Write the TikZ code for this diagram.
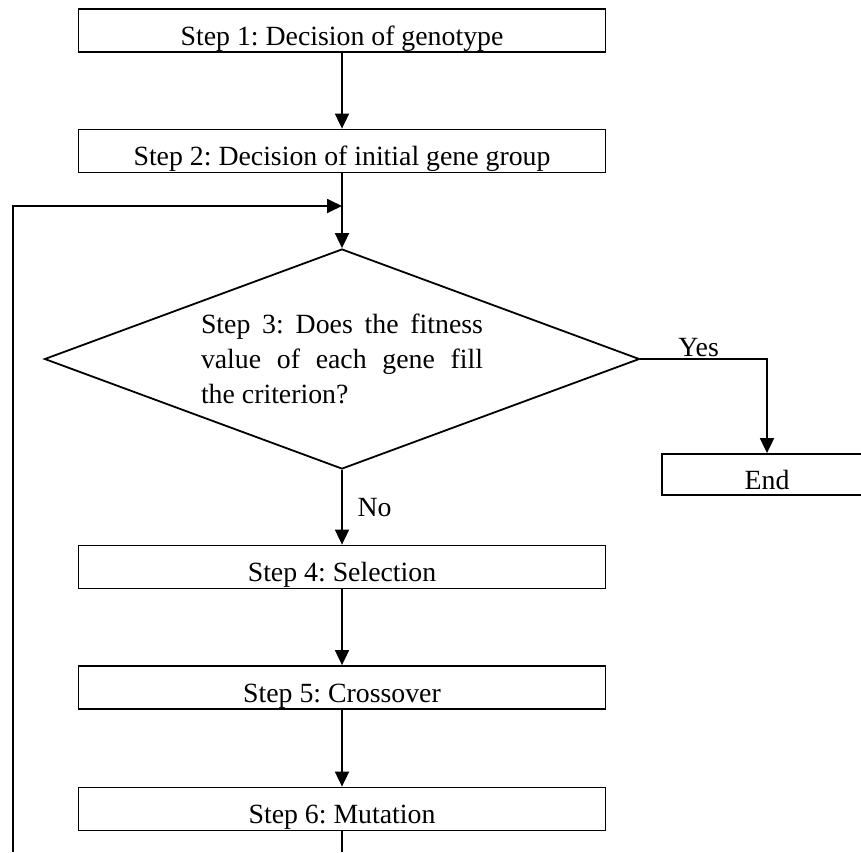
\documentclass[tikz,border=0pt]{standalone}
\usepackage{fontspec}
\setmainfont{Liberation Serif}
\usetikzlibrary{shapes.geometric,arrows.meta}
\tikzset{
  stepfont/.style={font=\fontsize{13.9}{17.5}\selectfont\frenchspacing},
  stepbox/.style={draw,line width=0.9pt,minimum width=263.5pt,minimum height=21.5pt,inner sep=0pt,text height=16pt,text depth=1.5pt,stepfont},
  decision/.style={draw,diamond,line width=0.9pt,aspect=2.7,minimum width=297.5pt,minimum height=110pt,inner sep=0pt,text width=141pt,align=justify,stepfont},
  flow/.style={line width=0.9pt,-{Triangle[length=7.5pt,width=7pt]}}
}
\begin{document}
\begin{tikzpicture}[x=0.5pt,y=-0.5pt]
\useasboundingbox (0,0) rectangle (861,852);
\clip (0,0) rectangle (861,852);
\node[stepbox] (s1) at (342,30.5) {Step 1: Decision of genotype};
\node[stepbox] (s2) at (342,151) {Step 2: Decision of initial gene group};
\node[decision] (s3) at (342,359) {Step 3: Does the fitness\linebreak value of each gene fill\linebreak the criterion?};
\node[stepbox,minimum width=105pt,minimum height=20.5pt] (end) at (767,474.5) {End};
\node[stepbox] (s4) at (342,567) {Step 4: Selection};
\node[stepbox] (s5) at (342,687.5) {Step 5: Crossover};
\node[stepbox] (s6) at (342,809) {Step 6: Mutation};
\coordinate (merge) at (342,206);
\coordinate (loop) at (13,852);
\draw[flow] (s1.south) -- (s2.north);
\draw[flow] (s2.south) -- (s3.north);
\draw[flow] (loop) |- (merge);
\draw[flow] (s3.east) -| node[pos=0.23,above,inner sep=0.5pt,stepfont] {Yes} (end.north);
\draw[flow] (s3.south) -- node[right=4pt,stepfont] {No} (s4.north);
\draw[flow] (s4.south) -- (s5.north);
\draw[flow] (s5.south) -- (s6.north);
\draw[line width=0.9pt] (s6.south) -- (s6.south |- loop);
\end{tikzpicture}
\end{document}
